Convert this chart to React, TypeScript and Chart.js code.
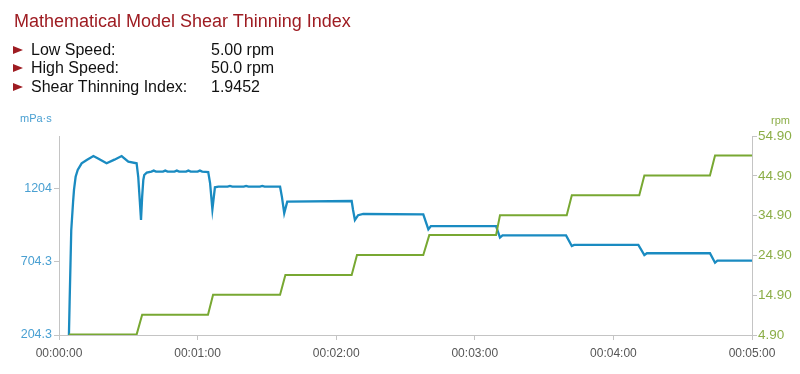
import React, { useEffect, useRef } from "react";
import { Chart, registerables } from "chart.js";

Chart.register(...registerables);

// ---- data ----
const timeTicks = [0, 60, 120, 180, 240, 300];
const viscosityTicks = [204.3, 704.3, 1204.3];
const speedTicks = [4.9, 14.9, 24.9, 34.9, 44.9, 54.9];

const viscosityTime = [
  4.3, 4.6, 5.3, 6.1, 6.5, 7.2, 8.1, 9.8, 12, 14.9, 17.3, 20.6, 24, 27.1, 30, 33.6,
  34.3, 35, 35.5, 36, 36.5, 36.9, 38, 40, 41, 42, 45, 46, 47, 50, 51, 52, 55, 56, 57, 60, 61, 62, 64.6,
  65.4, 66.4, 67.5, 69, 73, 74, 75, 80, 81, 82, 87, 88, 89, 95.7,
  96.5, 97.5, 98.8, 126.7,
  127.3, 128.1, 129.5, 131.7, 157.7,
  159.9, 161, 189.2,
  190.9, 192, 219.5,
  222, 223, 250.8,
  253.4, 254.5, 281.8,
  284, 285, 300,
];
const viscosityValues = [
  204.3, 430, 920, 1117, 1200, 1288, 1334, 1380, 1403, 1430, 1410, 1380, 1405, 1430, 1391, 1380,
  1288, 1117, 992, 1152, 1266, 1300, 1316, 1323, 1330, 1323, 1323, 1330, 1323, 1323, 1330, 1323, 1323, 1330, 1323, 1323, 1330, 1323, 1320,
  1245, 1065, 1216, 1220, 1220, 1225, 1220, 1220, 1225, 1220, 1220, 1225, 1220, 1220,
  1150, 1038, 1117, 1122,
  1060, 992, 1025, 1033, 1031,
  928, 950, 950,
  871, 886, 886,
  814, 821, 821,
  752, 764, 764,
  699, 713, 713,
];

const speedTime = [4.3, 33.6, 36, 64.5, 66.7, 95.7, 98, 126.7, 129, 157.7, 160.3, 189.2, 190.9, 219.8, 222, 251.2, 253.4, 281.8, 284, 300];
const speedValues = [5, 5, 10, 10, 15, 15, 20, 20, 25, 25, 30, 30, 35, 35, 40, 40, 45, 45, 50, 50];

const titleText = "Mathematical Model Shear Thinning Index";
const infoLabels = ["Low Speed:", "High Speed:", "Shear Thinning Index:"];
const infoValues = ["5.00 rpm", "50.0 rpm", "1.9452"];

// ---- styles ----
const FONT = "'Liberation Sans', Arial, sans-serif";
const BLUE = "#1a8bc1";
const GREEN = "#78a832";
const BLUE_TXT = "#4aa0d2";
const GREEN_TXT = "#8cae48";
const RED = "#9e1c22";
const AXIS = "#c4c4c4";

function fmtTime(v: number) {
  const h = Math.floor(v / 3600);
  const m = Math.floor((v % 3600) / 60);
  const s = Math.round(v % 60);
  const p = (n: number) => String(n).padStart(2, "0");
  return `${p(h)}:${p(m)}:${p(s)}`;
}

export default function App() {
  const ref = useRef<HTMLCanvasElement | null>(null);

  useEffect(() => {
    if (!ref.current) return;
    const blue = viscosityTime.map((t, i) => ({ x: t, y: viscosityValues[i] }));
    const green = speedTime.map((t, i) => ({ x: t, y: speedValues[i] }));
    const chart = new Chart(ref.current, {
      type: "line",
      data: {
        datasets: [
          {
            data: green,
            borderColor: GREEN,
            borderWidth: 2,
            pointRadius: 0,
            tension: 0,
            yAxisID: "y1",
          },
          {
            data: blue,
            borderColor: BLUE,
            borderWidth: 2.3,
            pointRadius: 0,
            tension: 0,
            yAxisID: "y",
          },
        ],
      },
      options: {
        animation: false,
        responsive: false,
        maintainAspectRatio: false,
        layout: { padding: { top: 136, left: 0, right: 0, bottom: 0 } },
        plugins: { legend: { display: false }, tooltip: { enabled: false } },
        scales: {
          x: {
            type: "linear",
            min: 0,
            max: 300,
            afterBuildTicks: (s: any) => {
              s.ticks = timeTicks.map((v) => ({ value: v }));
            },
            afterFit: (s: any) => {
              s.height = 39;
            },
            ticks: {
              callback: (v: any) => fmtTime(Number(v)),
              color: "#555",
              font: { family: FONT, size: 12 },
              padding: 6,
              maxRotation: 0,
              autoSkip: false,
            },
            grid: { drawOnChartArea: false, drawTicks: true, tickLength: 5, color: AXIS },
            border: { color: AXIS, width: 1 },
          },
          y: {
            position: "left",
            min: 204.3,
            max: 1567,
            afterBuildTicks: (s: any) => {
              s.ticks = viscosityTicks.map((v) => ({ value: v }));
            },
            afterFit: (s: any) => {
              s.width = 59;
            },
            ticks: {
              callback: (v: any) => Number(v).toPrecision(4),
              color: BLUE_TXT,
              font: { family: FONT, size: 12.5 },
              padding: 2,
            },
            grid: { drawOnChartArea: false, drawTicks: true, tickLength: 5, color: AXIS },
            border: { color: AXIS, width: 1 },
          },
          y1: {
            position: "right",
            min: 4.9,
            max: 54.9,
            afterBuildTicks: (s: any) => {
              s.ticks = speedTicks.map((v) => ({ value: v }));
            },
            afterFit: (s: any) => {
              s.width = 48;
            },
            ticks: {
              callback: (v: any) => Number(v).toFixed(2),
              color: GREEN_TXT,
              font: { family: FONT, size: 13.5 },
              padding: 1,
            },
            grid: { drawOnChartArea: false, drawTicks: true, tickLength: 5, color: AXIS },
            border: { color: AXIS, width: 1 },
          },
        },
      },
    } as any);
    return () => chart.destroy();
  }, []);

  const rowBaselines = [55, 73.5, 92];

  return (
    <div
      style={{
        position: "fixed",
        left: 0,
        top: 0,
        width: 800,
        height: 374,
        background: "#fff",
        fontFamily: FONT,
      }}
    >
      <canvas ref={ref} width={800} height={374} style={{ position: "absolute", left: 0, top: 0, width: 800, height: 374 }} />
      <div
        style={{
          position: "absolute",
          left: 14,
          top: 10.5,
          fontSize: 18,
          lineHeight: "20px",
          color: RED,
          whiteSpace: "nowrap",
        }}
      >
        {titleText}
      </div>
      {infoLabels.map((lab, i) => (
        <React.Fragment key={lab}>
          <div
            style={{
              position: "absolute",
              left: 13,
              top: rowBaselines[i] - 9.5,
              width: 0,
              height: 0,
              borderLeft: "10px solid " + RED,
              borderTop: "4.5px solid transparent",
              borderBottom: "4.5px solid transparent",
            }}
          />
          <div
            style={{
              position: "absolute",
              left: 31,
              top: rowBaselines[i] - 14.3,
              fontSize: 16,
              lineHeight: "18px",
              color: "#111",
              whiteSpace: "nowrap",
            }}
          >
            {lab}
          </div>
          <div
            style={{
              position: "absolute",
              left: 211,
              top: rowBaselines[i] - 14.3,
              fontSize: 16,
              lineHeight: "18px",
              color: "#111",
              whiteSpace: "nowrap",
            }}
          >
            {infoValues[i]}
          </div>
        </React.Fragment>
      ))}
      <div
        style={{
          position: "absolute",
          left: 20,
          top: 112,
          fontSize: 11,
          lineHeight: "13px",
          color: BLUE_TXT,
          whiteSpace: "nowrap",
        }}
      >
        mPa·s
      </div>
      <div
        style={{
          position: "absolute",
          left: 771,
          top: 113.5,
          fontSize: 11,
          lineHeight: "13px",
          color: GREEN_TXT,
          whiteSpace: "nowrap",
        }}
      >
        rpm
      </div>
    </div>
  );
}
